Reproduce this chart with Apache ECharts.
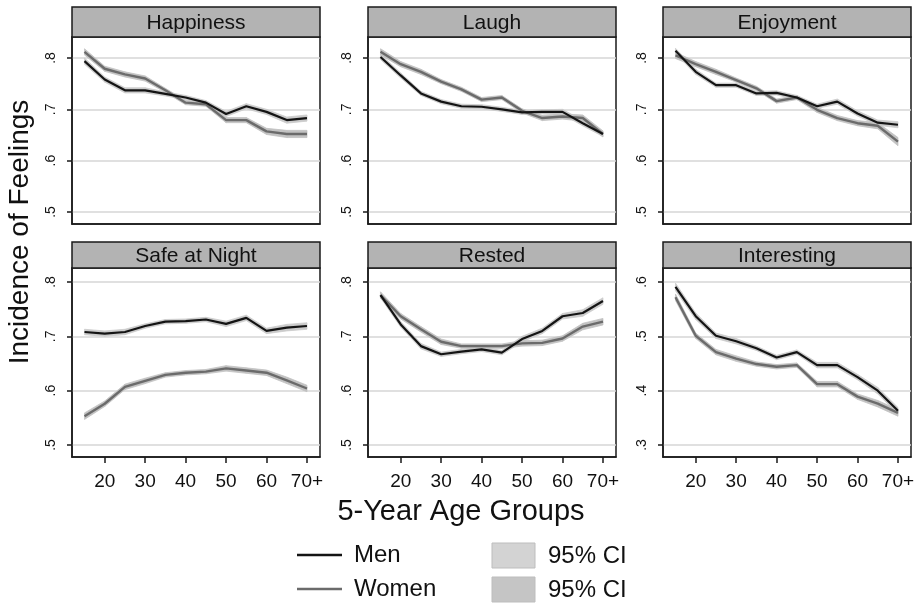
<!DOCTYPE html>
<html><head><meta charset="utf-8">
<script src="https://cdn.jsdelivr.net/npm/echarts@6/dist/echarts.min.js"></script>
<style>html,body{margin:0;padding:0;background:#fff}#c{width:923px;height:604px}</style>
</head><body><div id="c"></div><script>
// ---- data ----
const ages = [15,20,25,30,35,40,45,50,55,60,65,70];
const xTicks = [20,30,40,50,60,70];
const xTickLabels = ['20','30','40','50','60','70+'];
const panelTitles = ['Happiness','Laugh','Enjoyment','Safe at Night','Rested','Interesting'];
const yTicksMain = [0.5,0.6,0.7,0.8];
const yTickLabelsMain = ['.5','.6','.7','.8'];
const yTicksInteresting = [0.3,0.4,0.5,0.6];
const yTickLabelsInteresting = ['.3','.4','.5','.6'];

const happinessMen   = [0.794,0.758,0.737,0.737,0.730,0.723,0.713,0.691,0.706,0.695,0.679,0.683];
const happinessWomen = [0.812,0.779,0.768,0.760,0.737,0.713,0.710,0.679,0.679,0.657,0.652,0.652];
const laughMen       = [0.802,0.766,0.731,0.715,0.706,0.705,0.700,0.694,0.695,0.695,0.673,0.652];
const laughWomen     = [0.812,0.788,0.773,0.754,0.739,0.719,0.723,0.697,0.683,0.686,0.683,0.652];
const enjoymentMen   = [0.814,0.773,0.747,0.747,0.731,0.732,0.723,0.706,0.715,0.692,0.674,0.670];
const enjoymentWomen = [0.805,0.788,0.773,0.757,0.741,0.716,0.723,0.699,0.683,0.673,0.668,0.637];
const safeMen        = [0.708,0.705,0.708,0.719,0.727,0.728,0.731,0.723,0.734,0.710,0.716,0.719];
const safeWomen      = [0.553,0.576,0.607,0.618,0.629,0.633,0.635,0.641,0.637,0.633,0.619,0.604];
const restedMen      = [0.776,0.722,0.682,0.667,0.672,0.676,0.670,0.695,0.710,0.737,0.743,0.765];
const restedWomen    = [0.776,0.737,0.713,0.690,0.682,0.682,0.682,0.687,0.688,0.696,0.718,0.727];
const interestingMen   = [0.591,0.537,0.501,0.491,0.478,0.461,0.471,0.447,0.447,0.425,0.400,0.363];
const interestingWomen = [0.572,0.501,0.471,0.459,0.449,0.444,0.447,0.412,0.412,0.389,0.376,0.359];

const happinessMenCI   = [0.006,0.005,0.005,0.005,0.004,0.004,0.004,0.005,0.005,0.005,0.006,0.006];
const happinessWomenCI = [0.006,0.005,0.005,0.005,0.004,0.004,0.004,0.005,0.005,0.006,0.007,0.007];
const laughMenCI       = [0.005,0.005,0.004,0.004,0.004,0.004,0.004,0.004,0.004,0.005,0.005,0.005];
const laughWomenCI     = [0.006,0.005,0.005,0.004,0.004,0.004,0.004,0.004,0.005,0.005,0.006,0.006];
const enjoymentMenCI   = [0.005,0.005,0.004,0.004,0.004,0.004,0.004,0.004,0.005,0.005,0.005,0.006];
const enjoymentWomenCI = [0.006,0.005,0.005,0.004,0.004,0.004,0.004,0.005,0.005,0.005,0.006,0.008];
const safeMenCI        = [0.005,0.005,0.005,0.004,0.004,0.004,0.004,0.005,0.005,0.005,0.006,0.006];
const safeWomenCI      = [0.006,0.005,0.005,0.005,0.004,0.004,0.004,0.005,0.005,0.005,0.006,0.006];
const restedMenCI      = [0.005,0.005,0.005,0.004,0.004,0.004,0.004,0.005,0.005,0.005,0.006,0.006];
const restedWomenCI    = [0.006,0.005,0.005,0.005,0.004,0.004,0.004,0.005,0.005,0.005,0.006,0.006];
const interestingMenCI   = [0.007,0.006,0.005,0.005,0.004,0.004,0.004,0.005,0.005,0.005,0.006,0.006];
const interestingWomenCI = [0.006,0.005,0.005,0.005,0.004,0.004,0.004,0.005,0.005,0.005,0.006,0.006];

const menSeries   = [happinessMen, laughMen, enjoymentMen, safeMen, restedMen, interestingMen];
const womenSeries = [happinessWomen, laughWomen, enjoymentWomen, safeWomen, restedWomen, interestingWomen];
const menCI   = [happinessMenCI, laughMenCI, enjoymentMenCI, safeMenCI, restedMenCI, interestingMenCI];
const womenCI = [happinessWomenCI, laughWomenCI, enjoymentWomenCI, safeWomenCI, restedWomenCI, interestingWomenCI];

// ---- layout ----
const FONT = '"Liberation Sans", Arial, Helvetica, sans-serif';
const colLeft = [72, 368, 663];
const panelW = 248;
const rowTop = [37, 268];
const rowH = [187, 189];
const hdrTop = [7, 242];
const yRange = [[0.4766, 0.8409], [0.4779, 0.8258]];
const xMin = 11.91, xMax = 73.22;
const MEN_COLOR = '#141414', WOMEN_COLOR = '#6b6b6b';
const MEN_BAND = '#cbcbcb', WOMEN_BAND = '#c2c2c2';

function bandRender(color) {
  return function (params, api) {
    const p1 = api.coord([api.value(0), api.value(2)]);
    const p2 = api.coord([api.value(3), api.value(5)]);
    const p3 = api.coord([api.value(3), api.value(4)]);
    const p4 = api.coord([api.value(0), api.value(1)]);
    return {type: 'polygon', shape: {points: [p1, p2, p3, p4]},
      style: {fill: color, stroke: color, lineWidth: 0.8}};
  };
}

const grids = [], xAxes = [], yAxes = [], series = [], graphics = [];
for (let i = 0; i < 6; i++) {
  const r = Math.floor(i / 3), c = i % 3;
  const isInt = i === 5;
  const yt = isInt ? yTicksInteresting : yTicksMain;
  const ytl = isInt ? yTickLabelsInteresting : yTickLabelsMain;
  const off = isInt ? -0.2 : 0;
  grids.push({left: colLeft[c], top: rowTop[r], width: panelW, height: rowH[r],
    containLabel: false, outerBoundsMode: 'none', show: true,
    borderColor: '#1a1a1a', borderWidth: 1.5, backgroundColor: '#fff'});
  const bottomRow = r === 1;
  xAxes.push({gridIndex: i, type: 'value', min: xMin, max: xMax,
    axisLine: {show: true, lineStyle: {color: '#1a1a1a', width: 1.5}},
    axisTick: {show: bottomRow, length: 6, customValues: xTicks, lineStyle: {color: '#1a1a1a', width: 1.5}},
    axisLabel: {show: bottomRow, customValues: xTicks, fontSize: 19, fontFamily: FONT, color: '#111', margin: 15,
      formatter: v => { const k = xTicks.findIndex(t => Math.abs(t - v) < 1e-6); return k >= 0 ? xTickLabels[k] : ''; }},
    splitLine: {show: false}});
  yAxes.push({gridIndex: i, type: 'value', min: +(yRange[r][0] + off).toFixed(4), max: +(yRange[r][1] + off).toFixed(4),
    axisLine: {show: true, lineStyle: {color: '#1a1a1a', width: 1.5}},
    axisTick: {show: true, length: 5, customValues: yt, lineStyle: {color: '#1a1a1a', width: 1.5}},
    axisLabel: {show: true, customValues: yt, rotate: 90, fontSize: 14, fontFamily: FONT, color: '#111', margin: 14,
      formatter: v => { const k = yt.findIndex(t => Math.abs(t - v) < 1e-6); return k >= 0 ? ytl[k] : ''; }},
    splitLine: {show: true, lineStyle: {color: '#d6d6d6', width: 1.5}}});

  const groups = [[menSeries[i], menCI[i], MEN_BAND], [womenSeries[i], womenCI[i], WOMEN_BAND]];
  groups.forEach(([vals, ci, col]) => {
    const lo = vals.map((v, k) => +(v - ci[k]).toFixed(4));
    const hi = vals.map((v, k) => +(v + ci[k]).toFixed(4));
    series.push({type: 'custom', xAxisIndex: i, yAxisIndex: i, silent: true, z: 1, clip: true,
      renderItem: bandRender(col),
      encode: {x: [0, 3], y: [1, 2, 4, 5]},
      data: ages.slice(0, -1).map((a, k) => [a, lo[k], hi[k], ages[k + 1], lo[k + 1], hi[k + 1]])});
  });
  series.push({type: 'line', name: 'Women', xAxisIndex: i, yAxisIndex: i, symbol: 'none', z: 3,
    lineStyle: {color: WOMEN_COLOR, width: 2.4}, data: ages.map((a, k) => [a, womenSeries[i][k]])});
  series.push({type: 'line', name: 'Men', xAxisIndex: i, yAxisIndex: i, symbol: 'none', z: 4,
    lineStyle: {color: MEN_COLOR, width: 2.2}, data: ages.map((a, k) => [a, menSeries[i][k]])});

  // panel header strip
  const hh = rowTop[r] - hdrTop[r];
  graphics.push({type: 'rect', shape: {x: colLeft[c], y: hdrTop[r], width: panelW, height: hh},
    style: {fill: '#b3b3b3', stroke: '#1a1a1a', lineWidth: 1.5}, z: 10});
  graphics.push({type: 'text', x: colLeft[c] + panelW / 2, y: hdrTop[r] + hh / 2 + 1,
    style: {text: panelTitles[i], font: '21px ' + FONT, fill: '#111', align: 'center', verticalAlign: 'middle',
      textAlign: 'center', textVerticalAlign: 'middle'}, z: 11});
}

// axis titles
graphics.push({type: 'text', x: 461, y: 512,
  style: {text: '5-Year Age Groups', font: '29px ' + FONT, fill: '#111', align: 'center', verticalAlign: 'middle',
    textAlign: 'center', textVerticalAlign: 'middle'}, z: 11});
graphics.push({type: 'text', x: 20, y: 232, rotation: Math.PI / 2,
  style: {text: 'Incidence of Feelings', font: '28px ' + FONT, fill: '#111', align: 'center', verticalAlign: 'middle',
    textAlign: 'center', textVerticalAlign: 'middle'}, z: 11});

// legend
const legendItems = [
  {color: MEN_COLOR, label: 'Men', y: 555},
  {color: WOMEN_COLOR, label: 'Women', y: 589}
];
legendItems.forEach(it => {
  graphics.push({type: 'line', shape: {x1: 297, y1: it.y, x2: 342, y2: it.y}, style: {stroke: it.color, lineWidth: 2.6}, z: 11});
  graphics.push({type: 'text', x: 354, y: it.y, style: {text: it.label, font: '24px ' + FONT, fill: '#111',
    align: 'left', verticalAlign: 'middle', textAlign: 'left', textVerticalAlign: 'middle'}, z: 11});
});
const ciBoxes = [{fill: '#d3d3d3', y: 543}, {fill: '#c5c5c5', y: 577}];
ciBoxes.forEach(b => {
  graphics.push({type: 'rect', shape: {x: 492, y: b.y, width: 43, height: 25}, style: {fill: b.fill, stroke: '#bdbdbd', lineWidth: 1}, z: 11});
  graphics.push({type: 'text', x: 548, y: b.y + 13, style: {text: '95% CI', font: '24px ' + FONT, fill: '#111',
    align: 'left', verticalAlign: 'middle', textAlign: 'left', textVerticalAlign: 'middle'}, z: 11});
});

const chart = echarts.init(document.getElementById('c'), null, {renderer: 'canvas'});
chart.setOption({
  animation: false,
  backgroundColor: '#fff',
  grid: grids, xAxis: xAxes, yAxis: yAxes, series: series,
  graphic: {elements: graphics}
});
</script></body></html>
